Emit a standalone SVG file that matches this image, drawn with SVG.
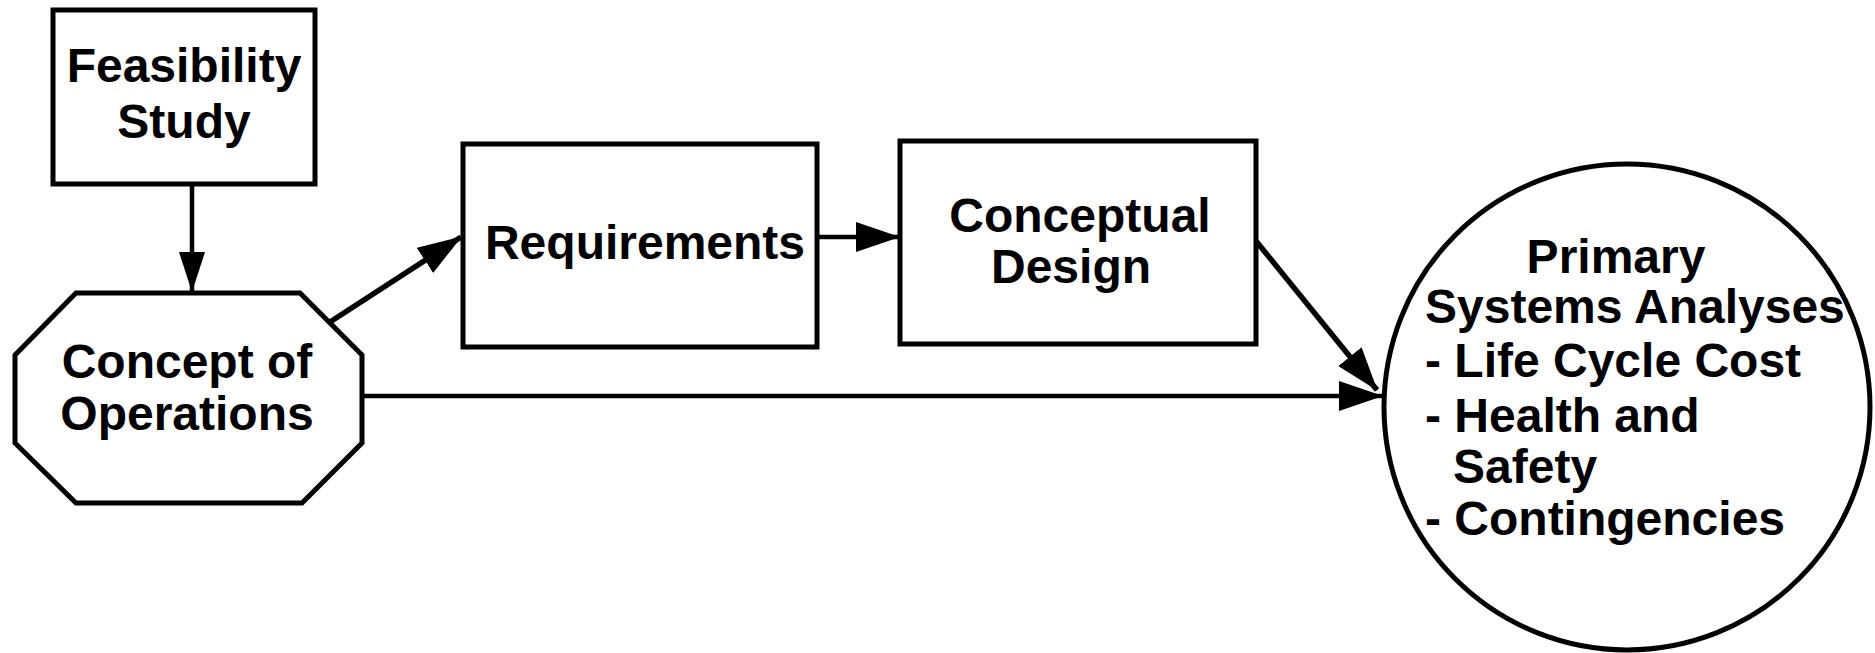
<svg xmlns="http://www.w3.org/2000/svg" width="1875" height="653" viewBox="0 0 1875 653">
  <defs>
    <style>
      .shape { fill: #ffffff; stroke: #000000; stroke-width: 5; stroke-linejoin: miter; }
      .label { font-family: "Liberation Sans", Arial, Helvetica, sans-serif; font-weight: bold; font-size: 48px; fill: #000000; }
      .mid { text-anchor: middle; }
      .link { fill: none; stroke: #000000; stroke-width: 4.5; }
      .link.thick { stroke-width: 5.5; }
    </style>
    <marker id="arrow" markerUnits="userSpaceOnUse" markerWidth="44" markerHeight="30" refX="43" refY="15" orient="auto">
      <path d="M0,0 L44,15 L0,30 Z" fill="#000000"/>
    </marker>
    <marker id="arrow-small" markerUnits="userSpaceOnUse" markerWidth="40" markerHeight="26" refX="39" refY="13" orient="auto">
      <path d="M0,0 L40,13 L0,26 Z" fill="#000000"/>
    </marker>
  </defs>

  <rect width="1875" height="653" fill="#ffffff"/>

  <!-- connectors -->
  <g id="connectors">
    <line class="link" x1="192" y1="185" x2="192" y2="291" marker-end="url(#arrow-small)"/>
    <line class="link thick" x1="330" y1="322" x2="461" y2="237" marker-end="url(#arrow)"/>
    <line class="link" x1="817" y1="237" x2="899" y2="237" marker-end="url(#arrow)"/>
    <line class="link thick" x1="1256" y1="241" x2="1377" y2="390" marker-end="url(#arrow)"/>
    <line class="link" x1="362" y1="396" x2="1382" y2="396" marker-end="url(#arrow)"/>
  </g>

  <!-- nodes -->
  <g id="feasibility-study">
    <rect class="shape" x="53" y="10" width="262" height="174"/>
    <text class="label mid" x="184" y="82">Feasibility</text>
    <text class="label mid" x="184" y="138">Study</text>
  </g>

  <g id="concept-of-operations">
    <polygon class="shape" points="76,293 300,293 362,355 362,443 302,503 76,503 15,443 15,355"/>
    <text class="label mid" x="187" y="378">Concept of</text>
    <text class="label mid" x="187" y="430">Operations</text>
  </g>

  <g id="requirements">
    <rect class="shape" x="463" y="144" width="354" height="203"/>
    <text class="label mid" x="645" y="259">Requirements</text>
  </g>

  <g id="conceptual-design">
    <rect class="shape" x="900" y="141" width="356" height="203"/>
    <text class="label mid" x="1080" y="232">Conceptual</text>
    <text class="label mid" x="1071" y="283">Design</text>
  </g>

  <g id="primary-systems-analyses">
    <circle class="shape" cx="1627" cy="407" r="243"/>
    <text class="label mid" x="1616" y="273">Primary</text>
    <text class="label" x="1425" y="323">Systems Analyses</text>
    <text class="label" x="1425" y="377">- Life Cycle Cost</text>
    <text class="label" x="1425" y="432">- Health and</text>
    <text class="label" x="1453" y="483">Safety</text>
    <text class="label" x="1425" y="535">- Contingencies</text>
  </g>
</svg>
